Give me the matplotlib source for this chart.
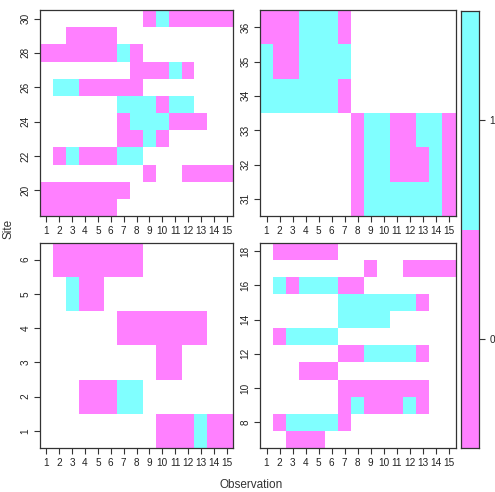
import numpy as np
import matplotlib
matplotlib.use("Agg")
import matplotlib.pyplot as plt
from matplotlib.colors import ListedColormap, BoundaryNorm

plt.rcParams["font.family"] = ["Liberation Sans", "DejaVu Sans"]

# one string per site, 15 observations: "." = missing, "0" / "1" = value
OBS = list(range(1, 16))

SITES_1_6 = [
    ".........000100",  # 1
    "...00011.......",  # 2
    ".........00....",  # 3
    "......0000000..",  # 4
    "..100..........",  # 5
    ".0000000.......",  # 6
]
SITES_7_18 = [
    "..000..........",  # 7
    ".011110........",  # 8
    "......0100010..",  # 9
    "......0000000..",  # 10
    "...000.........",  # 11
    "......0011110..",  # 12
    ".01111.........",  # 13
    "......1111.....",  # 14
    "......1111110..",  # 15
    ".1011100.......",  # 16
    "........0..0000",  # 17
    ".00000.........",  # 18
]
SITES_19_30 = [
    "000000.........",  # 19
    "0000000........",  # 20
    "........0..0000",  # 21
    ".0100011.......",  # 22
    "......0010.....",  # 23
    "......0111000..",  # 24
    "......111011...",  # 25
    ".1100000.......",  # 26
    ".......00010...",  # 27
    "00000010.......",  # 28
    "..0000.........",  # 29
    "........0100000",  # 30
]
SITES_31_36 = [
    ".......01111110",  # 31
    ".......01100010",  # 32
    ".......01100110",  # 33
    "1111110........",  # 34
    "1001111........",  # 35
    "0001110........",  # 36
]

PINK = "#FF80FF"
CYAN = "#80FFFF"
EDGE = "#333333"

W, H = 495, 492


def to_array(rows):
    vals = [[np.nan if c == "." else float(c) for c in r] for r in rows]
    return np.ma.masked_invalid(np.array(vals))


def px_axes(fig, x0, y0, x1, y1):
    return fig.add_axes([x0 / W, 1 - y1 / H, (x1 - x0) / W, (y1 - y0) / H])


cmap = ListedColormap([PINK, CYAN])
norm = BoundaryNorm([-0.5, 0.5, 1.5], cmap.N)

fig = plt.figure(figsize=(W / 100, H / 100), dpi=100)

panels = [
    (SITES_19_30, 19, list(range(20, 31, 2)), (40, 10, 233, 216)),
    (SITES_31_36, 31, list(range(31, 37)), (260, 10, 455.5, 216)),
    (SITES_1_6, 1, list(range(1, 7)), (40, 242.5, 233, 448)),
    (SITES_7_18, 7, list(range(8, 19, 2)), (260, 242.5, 455.5, 448)),
]

for rows, first, yticks, box in panels:
    ax = px_axes(fig, *box)
    data = to_array(rows)
    n = len(rows)
    xe = np.arange(0.5, 15.6, 1)
    ye = np.arange(first - 0.5, first + n, 1)
    ax.pcolormesh(xe, ye, data, cmap=cmap, norm=norm)
    ax.set_xlim(0.5, 15.5)
    ax.set_ylim(first - 0.5, first + n - 0.5)
    ax.set_xticks(OBS)
    ax.set_xticklabels([str(o) for o in OBS])
    ax.set_yticks(yticks)
    ax.set_yticklabels([str(y) for y in yticks], rotation=90, va="center")
    ax.tick_params(direction="out", length=4, width=0.8, labelsize=7.2,
                   color=EDGE, labelcolor="#222222", pad=3)
    for s in ax.spines.values():
        s.set_color(EDGE)
        s.set_linewidth(0.9)

# colour key
cax = px_axes(fig, 461, 11, 479, 448)
cax.pcolormesh([0, 1], [-0.5, 0.5, 1.5], np.array([[0.0], [1.0]]), cmap=cmap, norm=norm)
cax.set_xlim(0, 1)
cax.set_ylim(-0.5, 1.5)
cax.set_xticks([])
cax.yaxis.tick_right()
cax.set_yticks([0, 1])
cax.set_yticklabels(["0", "1"])
cax.tick_params(direction="out", length=4, width=0.8, labelsize=7.2,
                color=EDGE, labelcolor="#222222")
for s in cax.spines.values():
    s.set_color(EDGE)
    s.set_linewidth(0.9)

fig.text(8 / W, 1 - 229 / H, "Site", rotation=90, ha="center", va="center",
         fontsize=8.5, color="#333333")
fig.text(251 / W, 1 - 485 / H, "Observation", ha="center", va="center",
         fontsize=8.5, color="#333333")

fig.savefig("out.png", dpi=100)
